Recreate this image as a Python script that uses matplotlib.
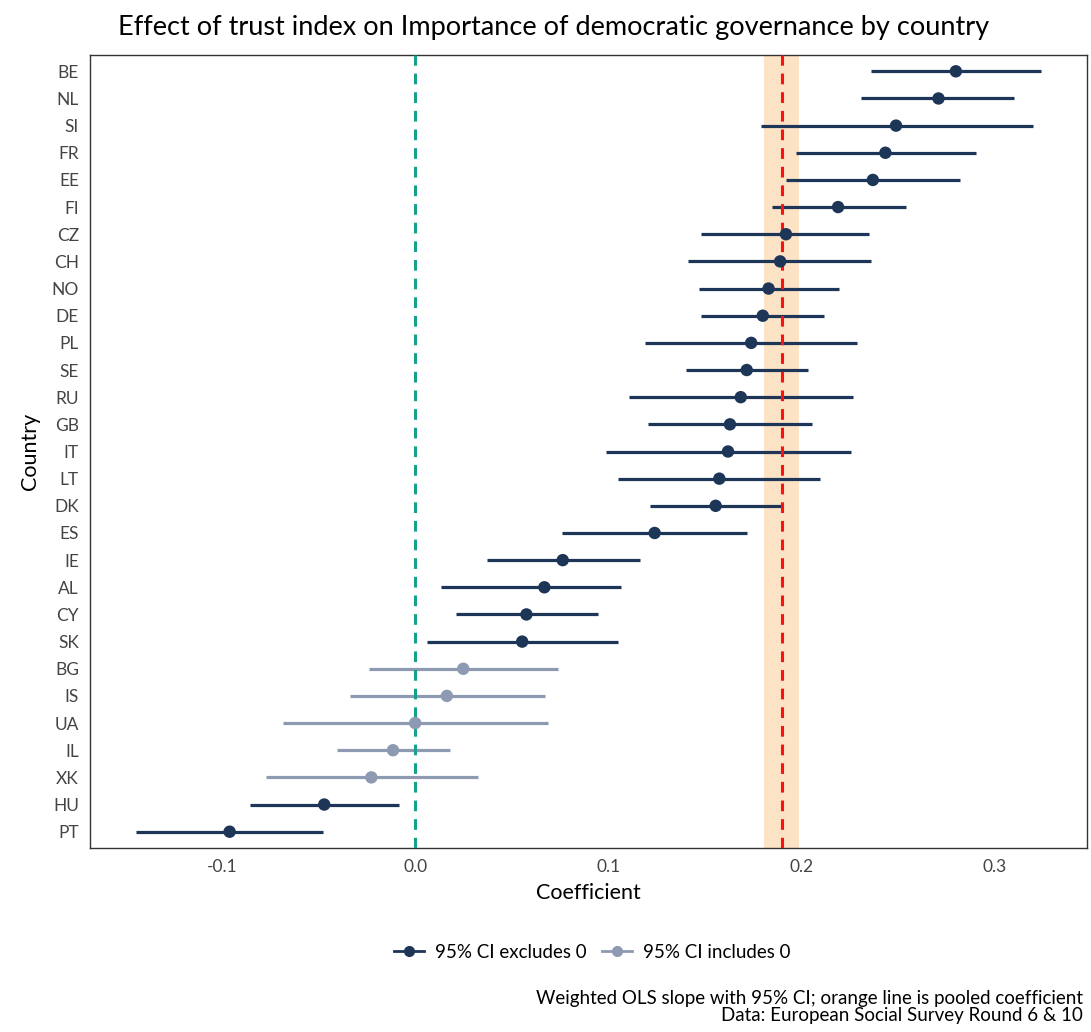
import matplotlib
matplotlib.use('Agg')
import matplotlib.pyplot as plt
from matplotlib.lines import Line2D
import numpy as np

plt.rcParams['font.family'] = ['Lato', 'DejaVu Sans']

# country estimates, top to bottom
countries = ['BE', 'NL', 'SI', 'FR', 'EE', 'FI', 'CZ', 'CH', 'NO', 'DE', 'PL', 'SE', 'RU', 'GB',
             'IT', 'LT', 'DK', 'ES', 'IE', 'AL', 'CY', 'SK', 'BG', 'IS', 'UA', 'IL', 'XK', 'HU', 'PT']
coef = [0.280, 0.271, 0.249, 0.2435, 0.237, 0.219, 0.192, 0.189, 0.183, 0.180, 0.174, 0.1717, 0.1686, 0.163,
        0.162, 0.1575, 0.1556, 0.124, 0.0764, 0.0669, 0.0576, 0.0554, 0.0249, 0.0164, 0.0, -0.0115, -0.0227,
        -0.0471, -0.0961]
ci_low = [0.236, 0.231, 0.179, 0.197, 0.192, 0.185, 0.148, 0.1415, 0.147, 0.148, 0.119, 0.140, 0.1107, 0.1204,
          0.0986, 0.105, 0.1218, 0.0762, 0.0374, 0.0135, 0.021, 0.0063, -0.0239, -0.0338, -0.0682, -0.0406,
          -0.0773, -0.0856, -0.1444]
ci_high = [0.324, 0.310, 0.320, 0.2905, 0.282, 0.254, 0.235, 0.236, 0.2195, 0.2117, 0.229, 0.2033, 0.2268, 0.2054,
           0.2257, 0.2095, 0.1895, 0.172, 0.1166, 0.1067, 0.0946, 0.105, 0.074, 0.067, 0.0687, 0.018,
           0.0324, -0.0085, -0.0475]

pooled = 0.1897
pooled_low = 0.1805
pooled_high = 0.199

dark = '#1d3557'
light = '#8e9ab2'

fig = plt.figure(figsize=(10.91, 10.32), dpi=100)
fig.patch.set_facecolor('white')
ax = fig.add_axes([0.0825, 0.1783, 0.914, 0.7684])

n = len(countries)
ypos = np.arange(n)[::-1]
lo = np.array(ci_low)
hi = np.array(ci_high)
excl = (lo > 0) | (hi < 0)
cols = [dark if e else light for e in excl]

ax.axvspan(pooled_low, pooled_high, color='#fde3c6', zorder=0, lw=0)
ax.hlines(ypos, lo, hi, colors=cols, lw=2.3, zorder=2)
ax.axvline(0, color='#17a08a', ls=(0, (3.5, 2.6)), lw=2.2, zorder=3)
ax.axvline(pooled, color='#ff1010', ls=(0, (3.5, 2.6)), lw=2.2, zorder=3)
ax.scatter(coef, ypos, s=80, c=cols, zorder=4, edgecolors='none')

ax.set_xlim(-0.1684, 0.348)
ax.set_ylim(-0.6, n - 0.4)
ax.set_yticks(ypos)
ax.set_yticklabels(countries)
ax.set_xticks([-0.1, 0.0, 0.1, 0.2, 0.3])
ax.set_xticklabels(['-0.1', '0.0', '0.1', '0.2', '0.3'])
ax.tick_params(length=0, labelsize=12.5, labelcolor='#444444', pad=8)
for s in ax.spines.values():
    s.set_color('#333333')
    s.set_linewidth(1.0)

ax.set_xlabel('Coefficient', fontsize=15.5, labelpad=6)
ax.set_ylabel('Country', fontsize=15.5, labelpad=8)
fig.suptitle('Effect of trust index on Importance of democratic governance by country',
             fontsize=19.5, x=0.507, y=0.985)

handles = [Line2D([0], [0], color=dark, lw=2, marker='o', ms=7),
           Line2D([0], [0], color=light, lw=2, marker='o', ms=7)]
fig.legend(handles, ['95% CI excludes 0', '95% CI includes 0'], loc='center',
           bbox_to_anchor=(0.543, 0.077), ncol=2, frameon=False, fontsize=13.5,
           handlelength=1.6, columnspacing=0.8, handletextpad=0.6)

fig.text(0.993, 0.008, 'Weighted OLS slope with 95% CI; orange line is pooled coefficient\n'
         'Data: European Social Survey Round 6 & 10',
         ha='right', va='bottom', fontsize=13.5, linespacing=1.0)

fig.savefig('out.png', dpi=100, facecolor='white')
